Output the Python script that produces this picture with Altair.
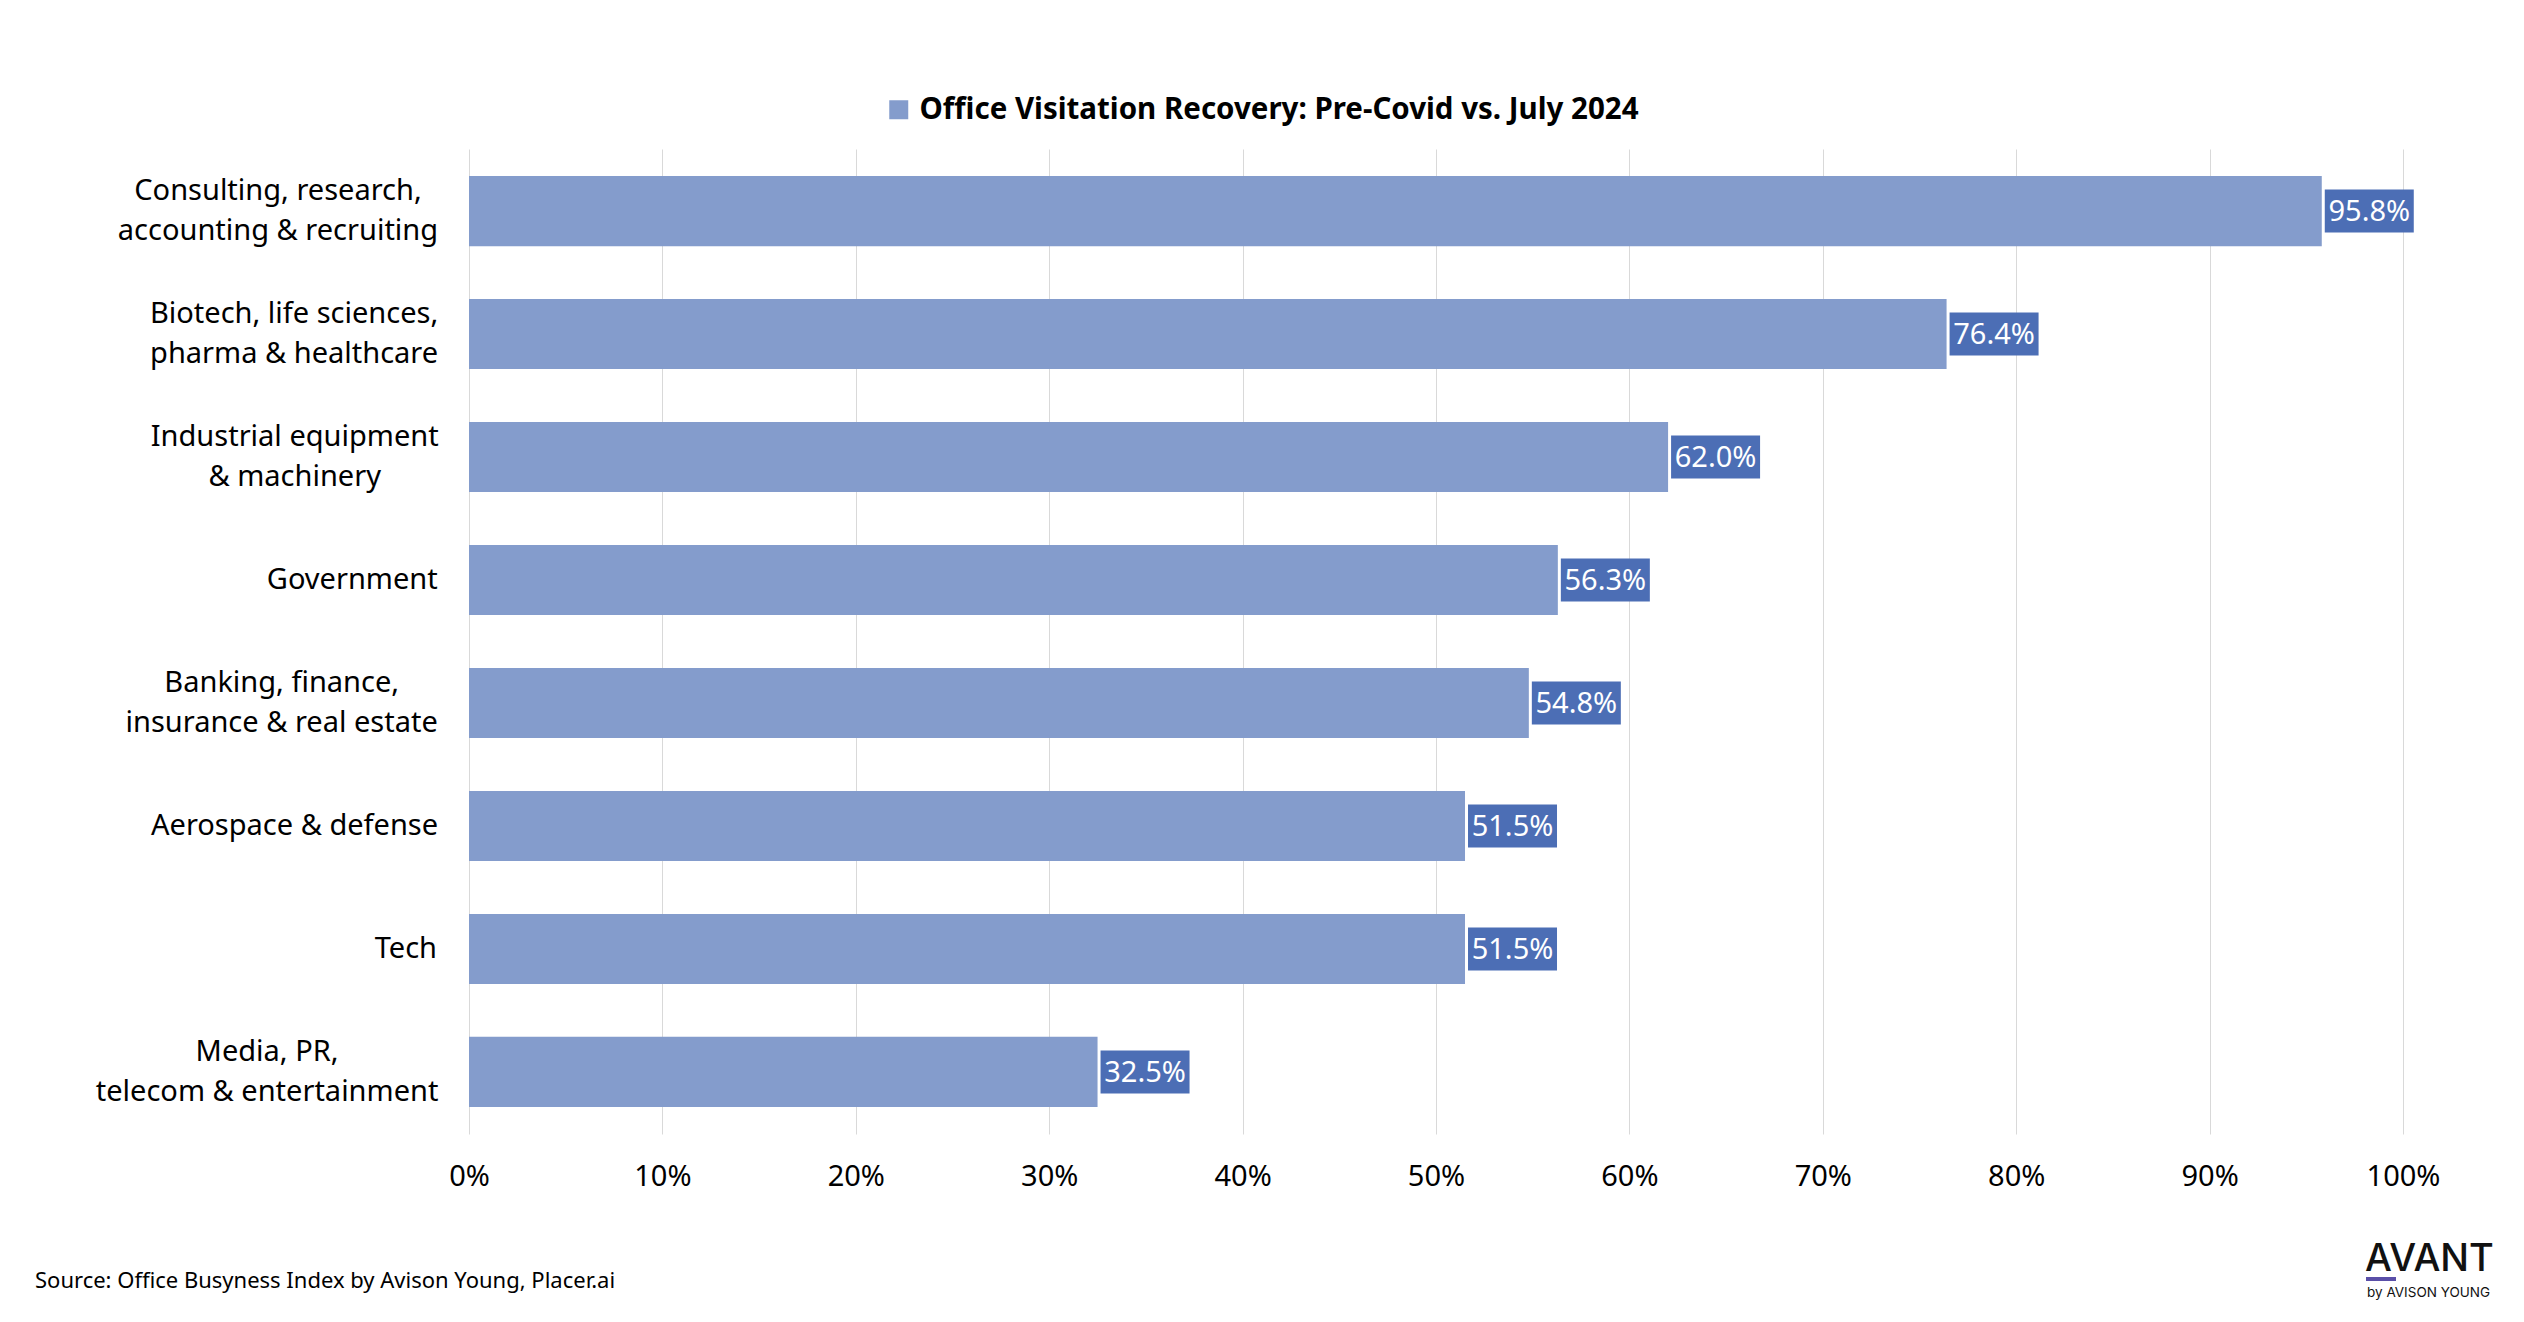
import altair as alt
import pandas as pd

# ---- data ----
categories = [
    "Consulting, research,\naccounting & recruiting",
    "Biotech, life sciences,\npharma & healthcare",
    "Industrial equipment\n& machinery",
    "Government",
    "Banking, finance,\ninsurance & real estate",
    "Aerospace & defense",
    "Tech",
    "Media, PR,\ntelecom & entertainment",
]
values = [95.8, 76.4, 62.0, 56.3, 54.8, 51.5, 51.5, 32.5]
series_name = "Office Visitation Recovery: Pre-Covid vs. July 2024"
x_ticks = [0, 10, 20, 30, 40, 50, 60, 70, 80, 90, 100]
source_text = "Source: Office Busyness Index by Avison Young, Placer.ai"

# ---- layout helpers ----
FONT = "Noto Sans"
LABEL_SIZE = 29
PLOT_W = 1934
PLOT_H = 985
LABEL_RIGHT = -31  # right edge of category label block, relative to plot left
LINE_H = 40

# approximate Noto Sans advance widths (per 1000 em)
_W = {' ': 260, 'a': 561, 'b': 615, 'c': 480, 'd': 615, 'e': 564, 'f': 344, 'g': 615,
      'h': 618, 'i': 258, 'j': 258, 'k': 534, 'l': 258, 'm': 935, 'n': 618, 'o': 605,
      'p': 615, 'q': 615, 'r': 413, 's': 479, 't': 361, 'u': 618, 'v': 508, 'w': 786,
      'x': 529, 'y': 510, 'z': 470, ',': 258, '.': 268, '&': 705, 'A': 639, 'B': 648,
      'C': 632, 'D': 729, 'E': 556, 'G': 728, 'I': 293, 'M': 903, 'P': 603, 'R': 624,
      'T': 556}


def text_width(s, size):
    return sum(_W.get(ch, 560) for ch in s) / 1000 * size


df = pd.DataFrame({"cat": categories, "value": values})
df["label"] = [f"{v:.1f}%" for v in values]
df["series"] = series_name
df["nlines"] = [len(c.split("\n")) for c in categories]
df["cx"] = [LABEL_RIGHT - max(text_width(line, LABEL_SIZE) for line in c.split("\n")) / 2
            for c in categories]

y_enc = alt.Y("cat:N", sort=categories, axis=None,
              scale=alt.Scale(paddingInner=0.43, paddingOuter=0.22))

base = alt.Chart(df)

bars = base.mark_bar().encode(
    x=alt.X("value:Q",
            scale=alt.Scale(domain=[0, 100], nice=False),
            axis=alt.Axis(values=x_ticks, labelExpr="datum.value + '%'", title=None,
                          grid=True, gridColor="#D9D9D9", gridWidth=1,
                          domain=False, ticks=False, labelFontSize=LABEL_SIZE,
                          labelColor="#000000", labelPadding=28, labelFont=FONT,
                          labelFlush=False)),
    y=y_enc,
    color=alt.Color("series:N", scale=alt.Scale(range=["#849CCC"]),
                    legend=alt.Legend(orient="none", legendX=415, legendY=-54,
                                      direction="horizontal", title=None,
                                      symbolType="square", symbolSize=361,
                                      symbolStrokeWidth=0, symbolOpacity=1,
                                      labelFont=FONT, labelFontSize=29.5,
                                      labelFontWeight="bold", labelColor="#000000",
                                      labelOffset=6, padding=0, labelLimit=2000)),
)

boxes = base.mark_bar(color="#4C6EB5", size=43, xOffset=3, x2Offset=92).encode(
    x="value:Q", x2="value:Q", y=y_enc,
)

vals = base.mark_text(color="white", font=FONT, fontSize=29, align="center",
                      baseline="middle", dx=47.5, dy=1).encode(
    x="value:Q", y=y_enc, text="label:N",
)

cat_one = base.transform_filter("datum.nlines == 1").mark_text(
    font=FONT, fontSize=LABEL_SIZE, align="center", baseline="middle",
    lineBreak="\n", lineHeight=LINE_H, color="#000000").encode(
    x=alt.X("cx:Q", scale=None), y=y_enc, text="cat:N",
)

cat_two = base.transform_filter("datum.nlines == 2").mark_text(
    font=FONT, fontSize=LABEL_SIZE, align="center", baseline="middle",
    lineBreak="\n", lineHeight=LINE_H, dy=-LINE_H / 2, color="#000000").encode(
    x=alt.X("cx:Q", scale=None), y=y_enc, text="cat:N",
)

source = alt.Chart(pd.DataFrame({"t": [source_text]})).mark_text(
    font=FONT, fontSize=22, align="left", baseline="middle", color="#000000").encode(
    x=alt.value(-434), y=alt.value(1132), text="t:N")

logo_main = alt.Chart(pd.DataFrame({"t": ["AVANT"]})).mark_text(
    font="Inter", fontSize=38, fontWeight=500, align="left", baseline="alphabetic",
    color="#111111").encode(x=alt.value(1896), y=alt.value(1122), text="t:N")

logo_sub = alt.Chart(pd.DataFrame({"t": ["by AVISON YOUNG"]})).mark_text(
    font="Inter", fontSize=13.5, align="left", baseline="alphabetic",
    color="#111111").encode(x=alt.value(1898), y=alt.value(1148), text="t:N")

logo_line = alt.Chart(pd.DataFrame({"t": [1]})).mark_rect(color="#5A4FA8").encode(
    x=alt.value(1897), x2=alt.value(1927), y=alt.value(1128), y2=alt.value(1132))

chart = alt.layer(bars, boxes, vals, cat_one, cat_two, source, logo_main, logo_sub,
                  logo_line).properties(
    width=PLOT_W, height=PLOT_H,
    autosize=alt.AutoSizeParams(type="none"),
    padding={"left": 461, "top": 141, "right": 113, "bottom": 180},
).configure(font=FONT).configure_view(stroke=None)

chart.save("out.html", embed_options={"renderer": "svg", "actions": False})
